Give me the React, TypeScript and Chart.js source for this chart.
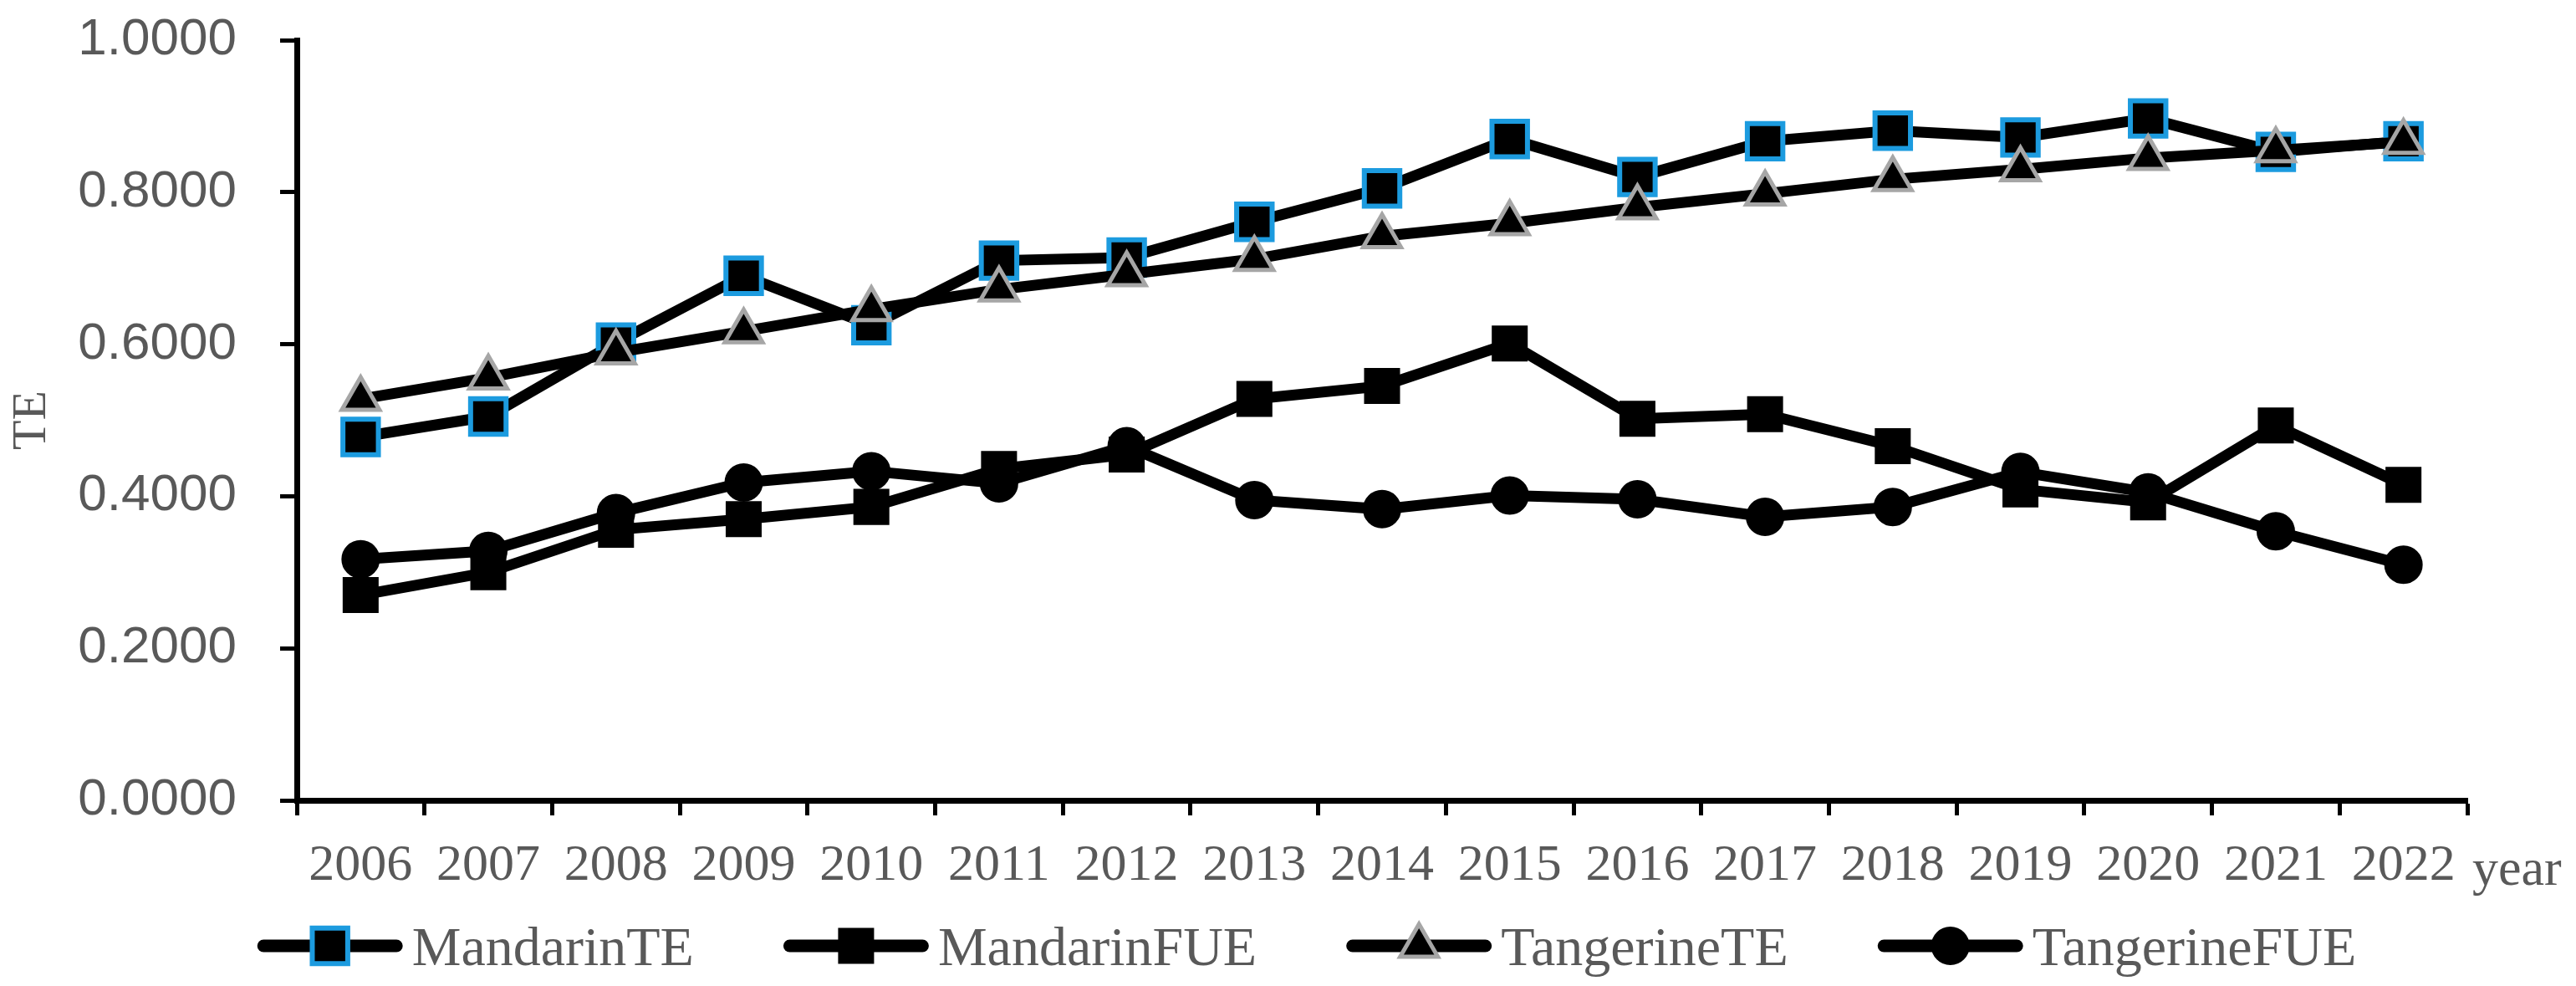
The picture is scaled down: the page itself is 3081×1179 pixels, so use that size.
import React, { useEffect, useRef } from "react";
import { Chart, registerables } from "chart.js";

Chart.register(...registerables);

const years = ["2006", "2007", "2008", "2009", "2010", "2011", "2012", "2013", "2014", "2015", "2016", "2017", "2018", "2019", "2020", "2021", "2022"];
const mandarinTE = [0.478, 0.505, 0.602, 0.690, 0.625, 0.710, 0.714, 0.761, 0.805, 0.870, 0.820, 0.867, 0.881, 0.872, 0.897, 0.853, 0.867];
const mandarinFUE = [0.270, 0.300, 0.356, 0.370, 0.386, 0.436, 0.455, 0.528, 0.545, 0.601, 0.502, 0.508, 0.466, 0.409, 0.392, 0.493, 0.415];
const tangerineTE = [0.528, 0.556, 0.589, 0.617, 0.646, 0.672, 0.692, 0.712, 0.742, 0.759, 0.780, 0.798, 0.817, 0.830, 0.845, 0.855, 0.866];
const tangerineFUE = [0.317, 0.328, 0.378, 0.418, 0.433, 0.417, 0.466, 0.395, 0.383, 0.401, 0.396, 0.373, 0.386, 0.432, 0.405, 0.354, 0.310];
const seriesNames = ["MandarinTE", "MandarinFUE", "TangerineTE", "TangerineFUE"];
const yMin = 0;
const yMax = 1;
const yStep = 0.2;
const yAxisTitle = "TE";
const xAxisUnit = "year";

const W = 3081;
const H = 1179;
const BLUE = "#1C9BDF";
const GRAY = "#A6A6A6";
const TEXT = "#595959";

type MarkerStyle = { pointStyle: string; radius: number; border: string; bw: number };
const markerStyles: MarkerStyle[] = [
  { pointStyle: "rect", radius: 30, border: BLUE, bw: 6 },
  { pointStyle: "rect", radius: 29, border: "#000", bw: 2 },
  { pointStyle: "triangle", radius: 26, border: GRAY, bw: 5 },
  { pointStyle: "circle", radius: 22, border: "#000", bw: 2 },
];

function drawMarker(ctx: CanvasRenderingContext2D, st: MarkerStyle, x: number, y: number) {
  ctx.save();
  ctx.fillStyle = "#000";
  ctx.strokeStyle = st.border;
  ctx.lineWidth = st.bw;
  ctx.beginPath();
  if (st.pointStyle === "rect") {
    const s = Math.SQRT1_2 * st.radius;
    ctx.rect(x - s, y - s, 2 * s, 2 * s);
  } else if (st.pointStyle === "triangle") {
    const r = st.radius;
    let rad = 0;
    ctx.moveTo(x + Math.sin(rad) * r, y - Math.cos(rad) * r);
    rad += (2 * Math.PI) / 3;
    ctx.lineTo(x + Math.sin(rad) * r, y - Math.cos(rad) * r);
    rad += (2 * Math.PI) / 3;
    ctx.lineTo(x + Math.sin(rad) * r, y - Math.cos(rad) * r);
    ctx.closePath();
  } else {
    ctx.arc(x, y, st.radius, 0, Math.PI * 2);
  }
  ctx.fill();
  ctx.stroke();
  ctx.restore();
}

export default function App() {
  const ref = useRef<HTMLCanvasElement>(null);

  useEffect(() => {
    document.body.style.margin = "0";
    const canvas = ref.current!;
    const values = [mandarinTE, mandarinFUE, tangerineTE, tangerineFUE];
    const datasets = seriesNames.map((name, i) => ({
      label: name,
      data: values[i],
      borderColor: "#000",
      backgroundColor: "#000",
      borderWidth: 13,
      pointStyle: markerStyles[i].pointStyle as any,
      pointRadius: markerStyles[i].radius,
      pointBackgroundColor: "#000",
      pointBorderColor: markerStyles[i].border,
      pointBorderWidth: markerStyles[i].bw,
      tension: 0,
      order: 4 - i,
      clip: false as any,
    }));

    const extras = {
      id: "extras",
      afterDraw(chart: any) {
        const ctx: CanvasRenderingContext2D = chart.ctx;
        const xs = chart.scales.x;
        ctx.save();
        // axis unit
        ctx.fillStyle = TEXT;
        ctx.font = '62px "Liberation Serif"';
        ctx.textAlign = "left";
        ctx.textBaseline = "alphabetic";
        ctx.fillText(xAxisUnit, xs.right + 6, 1058);

        // legend
        ctx.font = '66px "Liberation Serif"';
        const lineLen = 174;
        const textGap = 11;
        const itemGap = 107;
        const widths = seriesNames.map((n) => lineLen + textGap + ctx.measureText(n).width);
        const total = widths.reduce((a, b) => a + b, 0) + itemGap * (seriesNames.length - 1);
        let x = 1563 - total / 2;
        const y = 1131;
        seriesNames.forEach((n, i) => {
          ctx.strokeStyle = "#000";
          ctx.lineWidth = 15;
          ctx.lineCap = "round";
          ctx.beginPath();
          ctx.moveTo(x + 7.5, y);
          ctx.lineTo(x + lineLen - 7.5, y);
          ctx.stroke();
          drawMarker(ctx, markerStyles[i], x + lineLen / 2, y);
          ctx.fillStyle = TEXT;
          ctx.textAlign = "left";
          ctx.textBaseline = "alphabetic";
          ctx.fillText(n, x + lineLen + textGap, y + 23);
          x += widths[i] + itemGap;
        });
        ctx.restore();
      },
    };

    const chart = new Chart(canvas, {
      type: "line",
      data: { labels: years, datasets },
      options: {
        animation: false,
        responsive: false,
        devicePixelRatio: 1,
        layout: { padding: { top: 48, right: 130, bottom: 0, left: 0 } },
        plugins: { legend: { display: false }, tooltip: { enabled: false } },
        scales: {
          x: {
            type: "category",
            offset: true,
            grid: {
              offset: true,
              drawOnChartArea: false,
              drawTicks: true,
              tickLength: 18,
              tickWidth: 5,
              tickColor: "#000",
            },
            border: { display: true, color: "#000", width: 7 },
            ticks: {
              color: TEXT,
              font: { family: "Liberation Serif", size: 62 },
              padding: 24,
              maxRotation: 0,
              autoSkip: false,
            },
            afterFit: (scale: any) => {
              scale.height = H - 957;
              scale.paddingLeft = 0;
              scale.paddingRight = 0;
            },
          },
          y: {
            min: yMin,
            max: yMax,
            grid: {
              drawOnChartArea: false,
              drawTicks: true,
              tickLength: 20,
              tickWidth: 5,
              tickColor: "#000",
            },
            border: { display: true, color: "#000", width: 7 },
            ticks: {
              stepSize: yStep,
              color: TEXT,
              font: { family: "Liberation Sans", size: 62 },
              padding: 52,
              callback: (v: any) => Number(v).toFixed(4),
            },
            title: {
              display: true,
              text: yAxisTitle,
              color: TEXT,
              font: { family: "Liberation Serif", size: 58 },
              padding: { top: 4, bottom: 0 },
            },
            afterFit: (scale: any) => {
              scale.width = 355;
              scale.paddingTop = 0;
              scale.paddingBottom = 0;
            },
          },
        },
      },
      plugins: [extras],
    });
    return () => chart.destroy();
  }, []);

  return (
    <div style={{ width: W, height: H, position: "relative" }}>
      <canvas ref={ref} width={W} height={H} style={{ width: W, height: H, display: "block" }} />
    </div>
  );
}
